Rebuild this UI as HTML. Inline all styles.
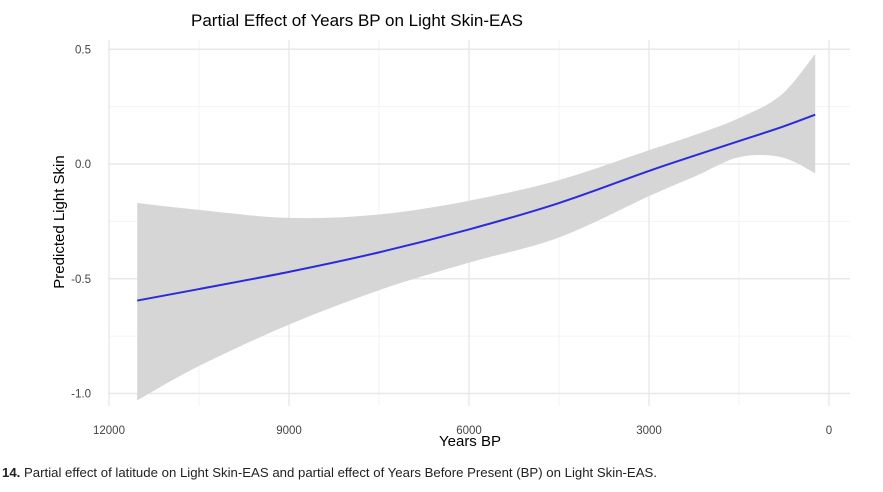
<!DOCTYPE html>
<html><head><meta charset="utf-8"><style>
body{margin:0;background:#fff;width:883px;height:492px;overflow:hidden;font-family:"Liberation Sans",sans-serif}
svg{display:block}
</style></head><body>
<svg width="883" height="492">
<g id="grid"></g>
<g id="band"></g>
<g id="line"></g>
<g id="axes"></g>
<text x="357" y="26" font-size="17" text-anchor="middle" fill="#000">Partial Effect of Years BP on Light Skin-EAS</text>
<text x="470" y="446" font-size="15" text-anchor="middle" fill="#000">Years BP</text>
<text transform="translate(64,222) rotate(-90)" font-size="15" text-anchor="middle" fill="#000">Predicted Light Skin</text>
<text x="2" y="477" font-size="12.5" fill="#222" textLength="655" lengthAdjust="spacingAndGlyphs"><tspan font-weight="bold">14.</tspan> Partial effect of latitude on Light Skin-EAS and partial effect of Years Before Present (BP) on Light Skin-EAS.</text>
</svg>
<script>
const years=[11530,10500,9000,7500,6000,4500,3000,2200,1500,800,230];
const fitValues=[-0.595,-0.545,-0.47,-0.385,-0.285,-0.17,-0.03,0.04,0.1,0.16,0.215];
const upperValues=[-0.17,-0.2,-0.235,-0.22,-0.16,-0.07,0.06,0.13,0.2,0.3,0.48];
const lowerValues=[-1.03,-0.88,-0.70,-0.55,-0.43,-0.32,-0.14,-0.05,0.03,0.03,-0.04];
const xTicks=[12000,9000,6000,3000,0];
const xMinor=[10500,7500,4500,1500];
const yTicks=[0.5,0.0,-0.5,-1.0];
const yTickLabels=["0.5","0.0","-0.5","-1.0"];
const yMinor=[0.25,-0.25,-0.75];
const NS='http://www.w3.org/2000/svg';
const X=v=>829-v*0.06, Y=v=>164-v*229.5;
function mk(p,t,a){const e=document.createElementNS(NS,t);for(const k in a)e.setAttribute(k,a[k]);p.appendChild(e);return e;}
function smooth(pts){let s='M'+pts[0][0]+','+pts[0][1];for(let i=0;i<pts.length-1;i++){const p0=pts[i-1]||pts[i],p1=pts[i],p2=pts[i+1],p3=pts[i+2]||p2;
const c1=[p1[0]+(p2[0]-p0[0])/6,p1[1]+(p2[1]-p0[1])/6],c2=[p2[0]-(p3[0]-p1[0])/6,p2[1]-(p3[1]-p1[1])/6];
s+='C'+c1+' '+c2+' '+p2[0]+','+p2[1];}return s;}
const grid=document.getElementById('grid'),axes=document.getElementById('axes');
yMinor.forEach(v=>{const l=mk(grid,'line',{x1:108,x2:850,y1:Y(v),y2:Y(v),stroke:'#f3f3f3','stroke-width':1});

});
xMinor.forEach(v=>{const l=mk(grid,'line',{x1:X(v),x2:X(v),y1:40,y2:406,stroke:'#f3f3f3','stroke-width':1});

});
yTicks.forEach((v,i)=>{const l=mk(grid,'line',{x1:108,x2:850,y1:Y(v),y2:Y(v),stroke:'#e8e8e8','stroke-width':1.4});


const t=mk(axes,'text',{x:91,y:Y(v)+4,'font-size':11.5,'text-anchor':'end',fill:'#444'});t.textContent=yTickLabels[i];

});
xTicks.forEach(v=>{const l=mk(grid,'line',{x1:X(v),x2:X(v),y1:40,y2:406,stroke:'#e8e8e8','stroke-width':1.4});


const t=mk(axes,'text',{x:X(v),y:434,'font-size':11.5,'text-anchor':'middle',fill:'#444'});t.textContent=v;

});
const up=years.map((y,i)=>[X(y),Y(upperValues[i])]);
const lo=years.map((y,i)=>[X(y),Y(lowerValues[i])]).reverse();
const d=smooth(up)+'L'+smooth(lo).slice(1)+'Z';
const b=mk(document.getElementById('band'),'path',{d:d,fill:'#d6d6d6'});


const p=mk(document.getElementById('line'),'path',{d:smooth(years.map((y,i)=>[X(y),Y(fitValues[i])])),fill:'none',stroke:'#2b2bdc','stroke-width':2});


</script>
</body></html>
